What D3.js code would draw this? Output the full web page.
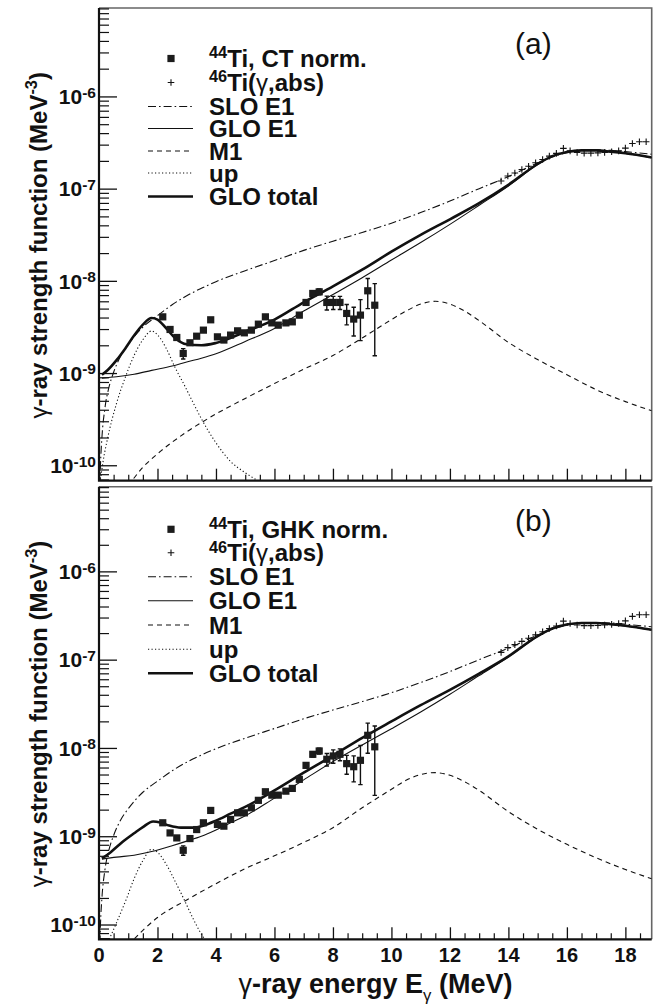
<!DOCTYPE html>
<html>
<head>
<meta charset="utf-8">
<script src="https://cdn.jsdelivr.net/npm/d3@7"></script>
<style>
  body { margin: 0; background: #fff; }
  svg { display: block; }
</style>
</head>
<body>
<svg id="chart" width="668" height="1006"></svg>
<script>
// ---- axis ranges and tick labels ----
const xMax = 18.9;
const yMin = 6.8e-11, yMax = 9.1e-6;
const xTickValues = [0, 2, 4, 6, 8, 10, 12, 14, 16, 18];
const xTickLabels = ["0", "2", "4", "6", "8", "10", "12", "14", "16", "18"];
const yTickValues = [1e-10, 1e-9, 1e-8, 1e-7, 1e-6];
const yTickExponents = ["-10", "-9", "-8", "-7", "-6"];

// ---- 44Ti strength function (MeV^-3), energy bins in MeV ----
const energies = [2.18, 2.43, 2.66, 2.88, 3.11, 3.34, 3.57, 3.82, 4.05, 4.27, 4.50, 4.74,
  4.97, 5.21, 5.45, 5.69, 5.91, 6.13, 6.39, 6.61, 6.85, 7.08, 7.31, 7.53, 7.79, 8.01,
  8.24, 8.47, 8.71, 8.94, 9.19, 9.43];
const ctNorm = [4.07e-9, 2.97e-9, 2.43e-9, 1.63e-9, 2.13e-9, 2.51e-9, 2.92e-9, 3.78e-9,
  2.47e-9, 2.28e-9, 2.58e-9, 2.87e-9, 2.73e-9, 2.92e-9, 3.39e-9, 4.07e-9, 3.50e-9, 3.31e-9,
  3.50e-9, 3.59e-9, 4.25e-9, 5.83e-9, 7.30e-9, 7.60e-9, 5.83e-9, 5.83e-9, 5.83e-9, 4.43e-9,
  3.85e-9, 4.25e-9, 7.80e-9, 5.44e-9];
const ctErr = [0.15e-9, 0.12e-9, 0.11e-9, 0.21e-9, 0.10e-9, 0.11e-9, 0.13e-9, 0.17e-9,
  0.11e-9, 0.10e-9, 0.11e-9, 0.13e-9, 0.13e-9, 0.14e-9, 0.17e-9, 0.21e-9, 0.19e-9, 0.19e-9,
  0.20e-9, 0.22e-9, 0.25e-9, 0.38e-9, 0.50e-9, 0.55e-9, 1.0e-9, 0.95e-9, 0.95e-9, 1.1e-9,
  1.33e-9, 2.0e-9, 2.8e-9, 3.9e-9];
const ghkNorm = [1.42e-9, 1.09e-9, 0.957e-9, 0.693e-9, 0.941e-9, 1.19e-9, 1.42e-9, 1.96e-9,
  1.36e-9, 1.30e-9, 1.55e-9, 1.84e-9, 1.84e-9, 2.10e-9, 2.55e-9, 3.19e-9, 2.92e-9, 2.92e-9,
  3.24e-9, 3.48e-9, 4.41e-9, 6.35e-9, 8.47e-9, 9.24e-9, 7.44e-9, 8.11e-9, 8.47e-9, 6.64e-9,
  6.13e-9, 7.24e-9, 1.39e-8, 1.03e-8];
const ghkErr = [0.06e-9, 0.05e-9, 0.05e-9, 0.085e-9, 0.05e-9, 0.06e-9, 0.07e-9, 0.09e-9,
  0.07e-9, 0.07e-9, 0.08e-9, 0.09e-9, 0.09e-9, 0.10e-9, 0.12e-9, 0.15e-9, 0.15e-9, 0.15e-9,
  0.17e-9, 0.18e-9, 0.25e-9, 0.40e-9, 0.6e-9, 0.7e-9, 1.2e-9, 1.4e-9, 1.3e-9, 1.6e-9,
  2.0e-9, 3.4e-9, 5.2e-9, 7.4e-9];

// ---- 46Ti(gamma,abs) photoabsorption points ----
const absEnergies = [13.75, 13.98, 14.22, 14.46, 14.69, 14.93, 15.17, 15.40, 15.64, 15.88,
  16.11, 16.35, 16.59, 16.82, 17.06, 17.29, 17.53, 17.77, 18.00, 18.24, 18.48, 18.71];
const absValues = [1.21e-7, 1.37e-7, 1.48e-7, 1.61e-7, 1.75e-7, 1.91e-7, 2.07e-7, 2.25e-7,
  2.41e-7, 2.73e-7, 2.57e-7, 2.47e-7, 2.43e-7, 2.43e-7, 2.44e-7, 2.47e-7, 2.51e-7, 2.57e-7,
  2.75e-7, 3.09e-7, 3.22e-7, 3.22e-7];

// ---- model curves, [E (MeV), f (MeV^-3)] ----
const sloE1 = [[0.03, 6.1e-11], [0.05, 1.0e-10], [0.1, 2.0e-10], [0.2, 4.1e-10], [0.35, 7.2e-10],
  [0.5, 1.02e-9], [0.75, 1.55e-9], [1.0, 2.05e-9], [1.5, 3.15e-9], [2.0, 4.2e-9], [2.5, 5.5e-9],
  [3.0, 6.9e-9], [3.5, 8.3e-9], [4.0, 9.8e-9], [5.0, 1.29e-8], [6.0, 1.66e-8], [7.0, 2.14e-8],
  [8.0, 2.69e-8], [9.0, 3.35e-8], [10, 4.22e-8], [11, 5.5e-8], [12, 7.33e-8], [13, 1.0e-7],
  [14, 1.35e-7], [15, 1.9e-7], [16, 2.45e-7], [16.5, 2.6e-7], [17, 2.64e-7], [17.5, 2.6e-7],
  [18, 2.52e-7], [18.9, 2.36e-7]];

const gloE1A = [[0.1, 8.8e-10], [0.6, 9.1e-10], [1.2, 9.7e-10], [1.8, 1.07e-9], [2.5, 1.19e-9],
  [3.0, 1.32e-9], [3.5, 1.45e-9], [4.0, 1.62e-9], [5.0, 2.2e-9], [6.0, 3.05e-9], [7.0, 4.7e-9],
  [8.0, 7.1e-9], [9.0, 1.08e-8], [10, 1.68e-8], [11, 2.6e-8], [12, 4.1e-8], [13, 6.6e-8],
  [14, 1.07e-7], [15, 1.83e-7], [15.5, 2.24e-7], [16, 2.49e-7], [16.5, 2.59e-7], [17, 2.59e-7],
  [17.5, 2.51e-7], [18, 2.41e-7], [18.9, 2.17e-7]];
const m1A = [[1.0, 6.0e-11], [1.5, 9.5e-11], [2.0, 1.33e-10], [3.0, 2.3e-10], [4.0, 3.6e-10],
  [5.0, 5.3e-10], [6.0, 7.7e-10], [7.0, 1.1e-9], [8.0, 1.55e-9], [9.0, 2.4e-9], [10, 3.8e-9],
  [10.5, 4.7e-9], [11, 5.6e-9], [11.5, 6.0e-9], [12, 5.6e-9], [12.5, 4.7e-9], [13, 3.7e-9],
  [14, 2.15e-9], [15, 1.4e-9], [16, 9.6e-10], [17, 6.6e-10], [18, 4.9e-10], [18.9, 3.9e-10]];
const upA = [[0.05, 7.0e-11], [0.15, 1.15e-10], [0.3, 2.0e-10], [0.6, 4.7e-10], [0.9, 9.0e-10],
  [1.2, 1.55e-9], [1.5, 2.3e-9], [1.8, 2.86e-9], [2.0, 2.6e-9], [2.3, 1.85e-9], [2.6, 1.15e-9],
  [2.9, 7.6e-10], [3.2, 4.9e-10], [3.5, 3.2e-10], [4.0, 1.75e-10], [4.5, 1.1e-10],
  [5.0, 8.3e-11], [5.5, 6.6e-11]];
const totalA = [[0.1, 9.6e-10], [0.3, 1.08e-9], [0.6, 1.38e-9], [0.9, 1.85e-9], [1.2, 2.55e-9],
  [1.5, 3.35e-9], [1.8, 3.95e-9], [2.0, 3.8e-9], [2.3, 3.05e-9], [2.6, 2.4e-9], [3.0, 2.05e-9],
  [3.5, 2.0e-9], [4.0, 2.12e-9], [5.0, 2.8e-9], [6.0, 3.8e-9], [7.0, 5.85e-9], [8.0, 8.7e-9],
  [9.0, 1.32e-8], [10, 2.07e-8], [11, 3.15e-8], [12, 4.65e-8], [13, 6.95e-8], [14, 1.1e-7],
  [15, 1.85e-7], [15.5, 2.25e-7], [16, 2.5e-7], [16.5, 2.6e-7], [17, 2.6e-7], [17.5, 2.52e-7],
  [18, 2.42e-7], [18.9, 2.18e-7]];

const gloE1B = [[0.1, 5.5e-10], [0.6, 5.8e-10], [1.2, 6.1e-10], [1.8, 6.7e-10], [2.5, 7.8e-10],
  [3.0, 8.8e-10], [3.5, 1.0e-9], [4.0, 1.18e-9], [4.5, 1.42e-9], [5.0, 1.7e-9], [6.0, 2.7e-9],
  [7.0, 4.35e-9], [8.0, 7.0e-9], [9.0, 1.08e-8], [10, 1.65e-8], [11, 2.55e-8], [12, 4.05e-8],
  [13, 6.6e-8], [14, 1.07e-7], [15, 1.83e-7], [15.5, 2.24e-7], [16, 2.49e-7], [16.5, 2.59e-7],
  [17, 2.59e-7], [17.5, 2.51e-7], [18, 2.41e-7], [18.9, 2.17e-7]];
const m1B = [[1.0, 5.8e-11], [1.5, 8.6e-11], [2.0, 1.2e-10], [3.0, 1.9e-10], [4.0, 2.9e-10],
  [5.0, 4.3e-10], [6.0, 6.0e-10], [7.0, 8.5e-10], [8.0, 1.25e-9], [9.0, 2.1e-9], [10, 3.4e-9],
  [10.5, 4.3e-9], [11, 5.0e-9], [11.5, 5.25e-9], [12, 4.9e-9], [12.5, 4.15e-9], [13, 3.3e-9],
  [14, 1.9e-9], [15, 1.2e-9], [16, 8.1e-10], [17, 5.7e-10], [18, 4.2e-10], [18.9, 3.3e-10]];
const upB = [[0.35, 6.8e-11], [0.6, 1.05e-10], [0.95, 2.0e-10], [1.2, 3.3e-10], [1.5, 5.3e-10],
  [1.8, 7.1e-10], [2.0, 6.6e-10], [2.3, 4.8e-10], [2.6, 3.1e-10], [2.9, 1.95e-10],
  [3.2, 1.2e-10], [3.5, 7.8e-11], [3.65, 6.6e-11]];
const totalB = [[0.1, 5.6e-10], [0.4, 6.6e-10], [0.8, 8.6e-10], [1.2, 1.08e-9], [1.5, 1.27e-9],
  [1.85, 1.47e-9], [2.1, 1.43e-9], [2.4, 1.32e-9], [2.8, 1.25e-9], [3.2, 1.25e-9], [3.6, 1.33e-9],
  [4.0, 1.5e-9], [4.5, 1.8e-9], [5.0, 2.15e-9], [6.0, 3.3e-9], [7.0, 5.25e-9], [8.0, 8.2e-9],
  [9.0, 1.3e-8], [10, 2.0e-8], [11, 3.05e-8], [12, 4.55e-8], [13, 6.95e-8], [14, 1.09e-7],
  [15, 1.85e-7], [15.5, 2.25e-7], [16, 2.5e-7], [16.5, 2.6e-7], [17, 2.6e-7], [17.5, 2.52e-7],
  [18, 2.42e-7], [18.9, 2.18e-7]];

// ---- legend texts ----
const legendA = ["Ti, CT norm.", "Ti(γ,abs)", "SLO E1", "GLO E1", "M1", "up", "GLO total"];
const legendB = ["Ti, GHK norm.", "Ti(γ,abs)", "SLO E1", "GLO E1", "M1", "up", "GLO total"];

// ---------------------------------------------------------------
const svg = d3.select("#chart");
const FONT = "'Liberation Sans', Arial, Helvetica, sans-serif";
const left = 99, right = 651.7;

const x = d3.scaleLinear().domain([0, xMax]).range([left, right]);

// line styles for the model curves
const styles = {
  slo:   { w: 1.1, dash: "8,3,1.6,3" },
  glo:   { w: 1.1, dash: null },
  m1:    { w: 1.1, dash: "5,4" },
  up:    { w: 1.1, dash: "1.2,2.3" },
  total: { w: 2.6, dash: null }
};

// text helper: parts = [{t, sup, sub, normal}]
function addText(g, px, py, size, parts, opts = {}) {
  const rot = opts.rotate || 0;
  const t = g.append("text")
    .attr("transform", `translate(${px},${py}) rotate(${rot})`)
    .attr("font-family", FONT)
    .attr("font-size", size)
    .attr("font-weight", opts.weight || "bold")
    .attr("text-anchor", opts.anchor || "start")
    .attr("fill", "#111");
  let shift = 0;
  parts.forEach(p => {
    const s = t.append("tspan").text(p.t);
    let target = 0, fs = size;
    if (p.sup) { target = -size * (opts.supRise || 0.42); fs = size * (opts.supScale || 0.68); }
    if (p.sub) { target = size * 0.3; fs = size * 0.62; }
    s.attr("font-size", fs);
    if (target !== shift) { s.attr("dy", target - shift); shift = target; }
    if (p.normal) s.attr("font-weight", "normal");
  });
  return t;
}

function drawPanel(p, idx) {
  const g = svg.append("g");
  const y = d3.scaleLog().domain([yMin, yMax]).range([p.bottom, p.top]);

  const clipId = "clip" + idx;
  svg.append("clipPath").attr("id", clipId)
    .append("rect").attr("x", left).attr("y", p.top)
    .attr("width", right - left).attr("height", p.bottom - p.top);

  // frame: top and right in grey
  g.append("path")
    .attr("d", `M${left},${p.top}H${right}V${p.bottom}`)
    .attr("fill", "none").attr("stroke", "#666").attr("stroke-width", 1.6);

  // x ticks (inside, pointing up)
  const xMinor = d3.range(0, xMax + 1e-9, 0.5).filter(v => Math.abs(v / 2 - Math.round(v / 2)) > 1e-6);
  g.append("g").attr("transform", `translate(0,${p.bottom})`)
    .call(d3.axisBottom(x).tickValues(xMinor).tickSize(-6).tickFormat("").tickSizeOuter(0))
    .call(a => a.select(".domain").remove())
    .call(a => a.selectAll("line").attr("stroke", "#111").attr("stroke-width", 1.2));
  g.append("g").attr("transform", `translate(0,${p.bottom})`)
    .call(d3.axisBottom(x).tickValues(xTickValues).tickSize(-12).tickFormat("").tickSizeOuter(0))
    .call(a => a.select(".domain").remove())
    .call(a => a.selectAll("line").attr("stroke", "#111").attr("stroke-width", 1.3));

  // y ticks (inside, pointing right)
  const yMinor = [];
  for (let d = -11; d <= -6; d++) for (let m = 2; m <= 9; m++) {
    const v = m * Math.pow(10, d);
    if (v > yMin && v < yMax) yMinor.push(v);
  }
  g.append("g").attr("transform", `translate(${left},0)`)
    .call(d3.axisLeft(y).tickValues(yMinor).tickSize(-10).tickFormat("").tickSizeOuter(0))
    .call(a => a.select(".domain").remove())
    .call(a => a.selectAll("line").attr("stroke", "#111").attr("stroke-width", 1.2));
  g.append("g").attr("transform", `translate(${left},0)`)
    .call(d3.axisLeft(y).tickValues(yTickValues).tickSize(-18).tickFormat("").tickSizeOuter(0))
    .call(a => a.select(".domain").remove())
    .call(a => a.selectAll("line").attr("stroke", "#111").attr("stroke-width", 1.3));

  // axis lines
  g.append("path")
    .attr("d", `M${left},${p.top}V${p.bottom}H${right}`)
    .attr("fill", "none").attr("stroke", "#111").attr("stroke-width", 2.2);

  // y tick labels
  yTickValues.forEach((v, i) => {
    addText(g, 96, y(v) + 7.7, 21, [{ t: "10" }, { t: yTickExponents[i], sup: true }],
      { anchor: "end", supRise: 0.3, supScale: 0.74 });
  });

  // x tick labels only on the lower panel
  if (p.xLabels) {
    xTickValues.forEach((v, i) => {
      addText(g, x(v), p.bottom + 22.5, 20, [{ t: xTickLabels[i] }], { anchor: "middle" });
    });
  }

  // model curves
  const line = d3.line()
    .x(d => x(d[0])).y(d => y(d[1]))
    .curve(d3.curveMonotoneX);
  const curves = g.append("g").attr("clip-path", `url(#${clipId})`);
  [[sloE1, styles.slo], [p.glo, styles.glo], [p.m1, styles.m1], [p.up, styles.up],
   [p.total, styles.total]].forEach(([data, st]) => {
    curves.append("path").datum(data)
      .attr("d", line)
      .attr("fill", "none").attr("stroke", "#111")
      .attr("stroke-width", st.w)
      .attr("stroke-dasharray", st.dash)
      .attr("stroke-linejoin", "round");
  });

  // photoabsorption crosses
  const marks = g.append("g").attr("clip-path", `url(#${clipId})`);
  absEnergies.forEach((e, i) => {
    const cx = x(e), cy = y(absValues[i]);
    marks.append("path")
      .attr("d", `M${cx - 3.3},${cy}H${cx + 3.3}M${cx},${cy - 3.3}V${cy + 3.3}`)
      .attr("stroke", "#111").attr("stroke-width", 1.1);
  });

  // 44Ti points with error bars
  energies.forEach((e, i) => {
    const v = p.values[i], er = p.errors[i];
    const cx = x(e);
    const y0 = y(v + er), y1 = y(Math.max(v - er, yMin));
    marks.append("path")
      .attr("d", `M${cx},${y0}V${y1}M${cx - 2.2},${y0}H${cx + 2.2}M${cx - 2.2},${y1}H${cx + 2.2}`)
      .attr("stroke", "#111").attr("stroke-width", 1.4);
  });
  marks.selectAll("rect.pt").data(energies).join("rect").attr("class", "pt")
    .attr("x", e => x(e) - 3.6)
    .attr("y", (e, i) => y(p.values[i]) - 3.6)
    .attr("width", 7.2).attr("height", 7.2)
    .attr("fill", "#1c1c1c");

  // legend
  const lg = g.append("g");
  const rows = p.legendRows;
  const lx0 = 148, lx1 = 193, mx = 171, tx = 209;
  lg.append("rect").attr("x", mx - 3.6).attr("y", rows[0] - 3.6)
    .attr("width", 7.2).attr("height", 7.2).attr("fill", "#1c1c1c");
  lg.append("path")
    .attr("d", `M${mx - 3.3},${rows[1]}H${mx + 3.3}M${mx},${rows[1] - 3.3}V${rows[1] + 3.3}`)
    .attr("stroke", "#111").attr("stroke-width", 1.1);
  [styles.slo, styles.glo, styles.m1, styles.up, styles.total].forEach((st, k) => {
    lg.append("line")
      .attr("x1", lx0).attr("x2", lx1)
      .attr("y1", rows[k + 2]).attr("y2", rows[k + 2])
      .attr("stroke", "#111").attr("stroke-width", st.w)
      .attr("stroke-dasharray", st.dash);
  });
  const lab = p.legend;
  addText(lg, tx, rows[0] + 8.5, 24, [{ t: "44", sup: true }, { t: lab[0] }],
    { supRise: 0.36, supScale: 0.68 });
  addText(lg, tx, rows[1] + 8.5, 24,
    [{ t: "46", sup: true }, { t: "Ti(" }, { t: "γ", normal: true }, { t: ",abs)" }],
    { supRise: 0.36, supScale: 0.68 });
  for (let k = 2; k < 7; k++) addText(lg, tx, rows[k] + 8.5, 24, [{ t: lab[k] }]);

  // panel tag
  addText(g, 515, p.tagY, 30, [{ t: p.tag }], { weight: "normal" });

  // y-axis title
  addText(g, 47, (p.top + p.bottom) / 2 + 1, 24,
    [{ t: "γ", normal: true }, { t: "-ray strength function (MeV" }, { t: "-3", sup: true }, { t: ")" }],
    { rotate: -90, anchor: "middle", supRise: 0.4, supScale: 0.68 });
}

const panels = [
  { top: 8, bottom: 480.7, values: ctNorm, errors: ctErr, glo: gloE1A, m1: m1A, up: upA,
    total: totalA, legend: legendA, tag: "(a)", tagY: 54, xLabels: false,
    legendRows: [58.5, 82.5, 106.5, 128.5, 151, 173, 196.5] },
  { top: 486.7, bottom: 939.3, values: ghkNorm, errors: ghkErr, glo: gloE1B, m1: m1B, up: upB,
    total: totalB, legend: legendB, tag: "(b)", tagY: 531, xLabels: true,
    legendRows: [529.3, 552.7, 576.7, 600.7, 625, 649.3, 673.3] }
];
panels.forEach(drawPanel);

// x-axis title
addText(svg, 375.5, 993, 27,
  [{ t: "γ", normal: true }, { t: "-ray energy E" }, { t: "γ", sub: true, normal: true }, { t: " (MeV)" }],
  { anchor: "middle" });
</script>
</body>
</html>
